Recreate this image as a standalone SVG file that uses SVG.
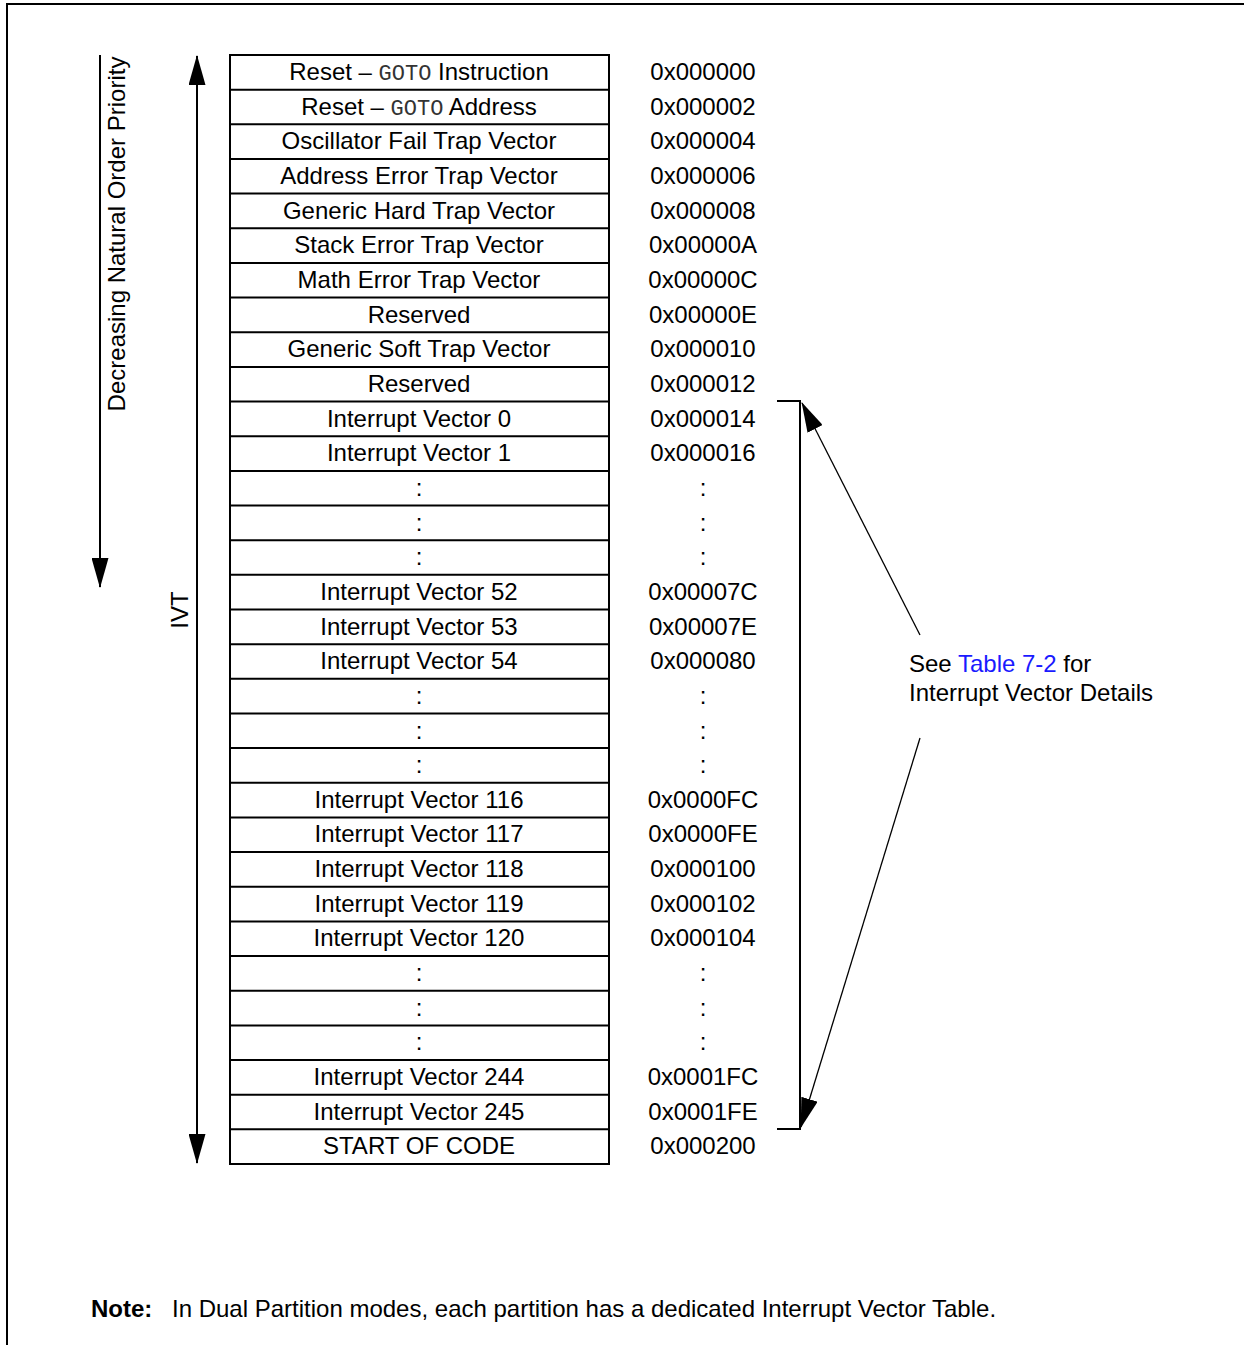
<svg xmlns="http://www.w3.org/2000/svg" width="1244" height="1345" viewBox="0 0 1244 1345">
<style>
text{font-family:"Liberation Sans",Arial,sans-serif;font-size:24px;fill:#000}
.c{text-anchor:middle}
.m{font-family:"Liberation Mono","Courier New",monospace;font-size:22px;fill:#333}
.sep{stroke:#000;stroke-width:2}
.big{stroke:#000;stroke-width:2;fill:none}
.thin{stroke:#000;stroke-width:1.3;fill:none}
</style>
<defs>
<marker id="head" markerUnits="userSpaceOnUse" viewBox="0 0 30 17" markerWidth="30" markerHeight="17" refX="29" refY="8.5" orient="auto-start-reverse">
<path d="M0,0 L30,8.5 L0,17 z" fill="#000"/>
</marker>
</defs>
<g id="frame">
<polyline points="7,1345 7,4 1244,4" fill="none" stroke="#000" stroke-width="2"/>
</g>
<g id="connectors">
<line class="big" x1="100" y1="55" x2="100" y2="587" marker-end="url(#head)"/>
<line class="big" x1="197" y1="56" x2="197" y2="1163" marker-start="url(#head)" marker-end="url(#head)"/>
<polyline class="big" points="777,401 800,401 800,1129 777,1129"/>
<line class="thin" x1="920" y1="635" x2="802" y2="403" marker-end="url(#head)"/>
<line class="thin" x1="920" y1="738" x2="801" y2="1127" marker-end="url(#head)"/>
</g>
<g id="labels-side">
<text class="c" transform="translate(125,234) rotate(-90)">Decreasing Natural Order Priority</text>
<text class="c" transform="translate(188,610) rotate(-90)">IVT</text>
</g>
<g id="table">
<rect x="230" y="55" width="379" height="1109" fill="none" stroke="#000" stroke-width="2"/>
<g class="sep">
<line x1="230" x2="609" y1="89.7" y2="89.7"/>
<line x1="230" x2="609" y1="124.3" y2="124.3"/>
<line x1="230" x2="609" y1="159" y2="159"/>
<line x1="230" x2="609" y1="193.6" y2="193.6"/>
<line x1="230" x2="609" y1="228.3" y2="228.3"/>
<line x1="230" x2="609" y1="262.9" y2="262.9"/>
<line x1="230" x2="609" y1="297.6" y2="297.6"/>
<line x1="230" x2="609" y1="332.3" y2="332.3"/>
<line x1="230" x2="609" y1="366.9" y2="366.9"/>
<line x1="230" x2="609" y1="401.6" y2="401.6"/>
<line x1="230" x2="609" y1="436.2" y2="436.2"/>
<line x1="230" x2="609" y1="470.9" y2="470.9"/>
<line x1="230" x2="609" y1="505.5" y2="505.5"/>
<line x1="230" x2="609" y1="540.2" y2="540.2"/>
<line x1="230" x2="609" y1="574.8" y2="574.8"/>
<line x1="230" x2="609" y1="609.5" y2="609.5"/>
<line x1="230" x2="609" y1="644.2" y2="644.2"/>
<line x1="230" x2="609" y1="678.8" y2="678.8"/>
<line x1="230" x2="609" y1="713.5" y2="713.5"/>
<line x1="230" x2="609" y1="748.1" y2="748.1"/>
<line x1="230" x2="609" y1="782.8" y2="782.8"/>
<line x1="230" x2="609" y1="817.4" y2="817.4"/>
<line x1="230" x2="609" y1="852.1" y2="852.1"/>
<line x1="230" x2="609" y1="886.7" y2="886.7"/>
<line x1="230" x2="609" y1="921.4" y2="921.4"/>
<line x1="230" x2="609" y1="956.1" y2="956.1"/>
<line x1="230" x2="609" y1="990.7" y2="990.7"/>
<line x1="230" x2="609" y1="1025.4" y2="1025.4"/>
<line x1="230" x2="609" y1="1060" y2="1060"/>
<line x1="230" x2="609" y1="1094.7" y2="1094.7"/>
<line x1="230" x2="609" y1="1129.3" y2="1129.3"/>
</g>
<g class="c">
<text x="419" y="80" class="c">Reset – <tspan class="m">GOTO</tspan> Instruction</text>
<text x="419" y="114.7" class="c">Reset – <tspan class="m">GOTO</tspan> Address</text>
<text x="419" y="149.3" class="c">Oscillator Fail Trap Vector</text>
<text x="419" y="184" class="c">Address Error Trap Vector</text>
<text x="419" y="218.6" class="c">Generic Hard Trap Vector</text>
<text x="419" y="253.3" class="c">Stack Error Trap Vector</text>
<text x="419" y="287.9" class="c">Math Error Trap Vector</text>
<text x="419" y="322.6" class="c">Reserved</text>
<text x="419" y="357.3" class="c">Generic Soft Trap Vector</text>
<text x="419" y="391.9" class="c">Reserved</text>
<text x="419" y="426.6" class="c">Interrupt Vector 0</text>
<text x="419" y="461.2" class="c">Interrupt Vector 1</text>
<text x="419" y="495.9" class="c">:</text>
<text x="419" y="530.5" class="c">:</text>
<text x="419" y="565.2" class="c">:</text>
<text x="419" y="599.8" class="c">Interrupt Vector 52</text>
<text x="419" y="634.5" class="c">Interrupt Vector 53</text>
<text x="419" y="669.2" class="c">Interrupt Vector 54</text>
<text x="419" y="703.8" class="c">:</text>
<text x="419" y="738.5" class="c">:</text>
<text x="419" y="773.1" class="c">:</text>
<text x="419" y="807.8" class="c">Interrupt Vector 116</text>
<text x="419" y="842.4" class="c">Interrupt Vector 117</text>
<text x="419" y="877.1" class="c">Interrupt Vector 118</text>
<text x="419" y="911.7" class="c">Interrupt Vector 119</text>
<text x="419" y="946.4" class="c">Interrupt Vector 120</text>
<text x="419" y="981.1" class="c">:</text>
<text x="419" y="1015.7" class="c">:</text>
<text x="419" y="1050.4" class="c">:</text>
<text x="419" y="1085" class="c">Interrupt Vector 244</text>
<text x="419" y="1119.7" class="c">Interrupt Vector 245</text>
<text x="419" y="1154.3" class="c">START OF CODE</text>
</g>
</g>
<g id="addresses">
<text x="703" y="80" class="c">0x000000</text>
<text x="703" y="114.7" class="c">0x000002</text>
<text x="703" y="149.3" class="c">0x000004</text>
<text x="703" y="184" class="c">0x000006</text>
<text x="703" y="218.6" class="c">0x000008</text>
<text x="703" y="253.3" class="c">0x00000A</text>
<text x="703" y="287.9" class="c">0x00000C</text>
<text x="703" y="322.6" class="c">0x00000E</text>
<text x="703" y="357.3" class="c">0x000010</text>
<text x="703" y="391.9" class="c">0x000012</text>
<text x="703" y="426.6" class="c">0x000014</text>
<text x="703" y="461.2" class="c">0x000016</text>
<text x="703" y="495.9" class="c">:</text>
<text x="703" y="530.5" class="c">:</text>
<text x="703" y="565.2" class="c">:</text>
<text x="703" y="599.8" class="c">0x00007C</text>
<text x="703" y="634.5" class="c">0x00007E</text>
<text x="703" y="669.2" class="c">0x000080</text>
<text x="703" y="703.8" class="c">:</text>
<text x="703" y="738.5" class="c">:</text>
<text x="703" y="773.1" class="c">:</text>
<text x="703" y="807.8" class="c">0x0000FC</text>
<text x="703" y="842.4" class="c">0x0000FE</text>
<text x="703" y="877.1" class="c">0x000100</text>
<text x="703" y="911.7" class="c">0x000102</text>
<text x="703" y="946.4" class="c">0x000104</text>
<text x="703" y="981.1" class="c">:</text>
<text x="703" y="1015.7" class="c">:</text>
<text x="703" y="1050.4" class="c">:</text>
<text x="703" y="1085" class="c">0x0001FC</text>
<text x="703" y="1119.7" class="c">0x0001FE</text>
<text x="703" y="1154.3" class="c">0x000200</text>
</g>
<g id="callout">
<text x="909" y="672">See <tspan fill="#1a1aff">Table 7-2</tspan> for</text>
<text x="909" y="701">Interrupt Vector Details</text>
</g>
<g id="note">
<text x="91" y="1317" font-weight="bold">Note:</text>
<text x="172" y="1317">In Dual Partition modes, each partition has a dedicated Interrupt Vector Table.</text>
</g>
</svg>
